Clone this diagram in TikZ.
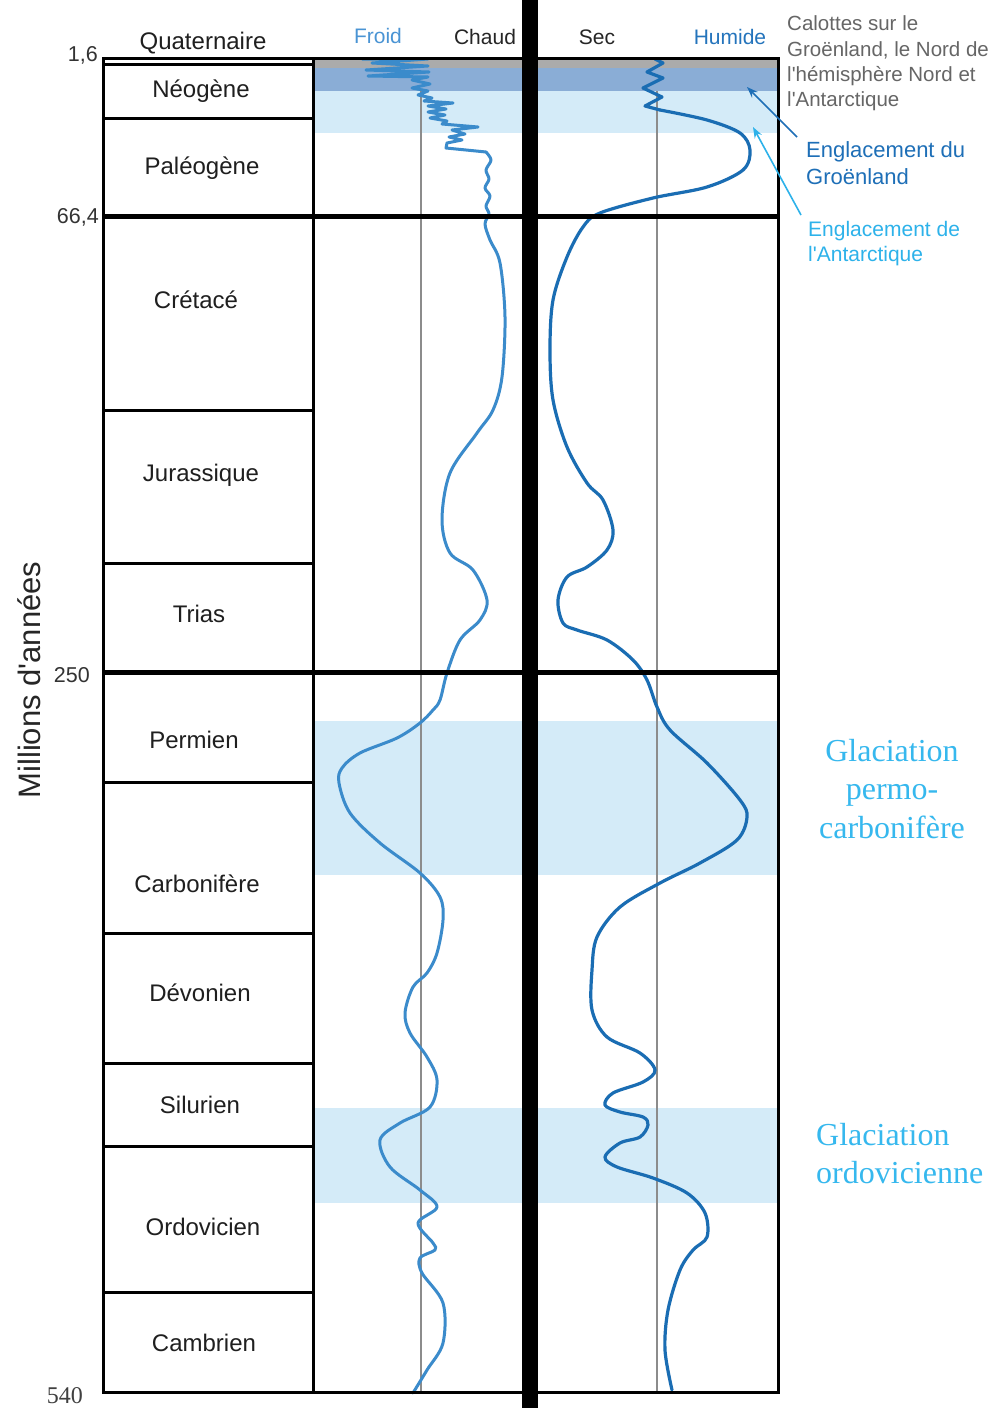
\documentclass[tikz,border=0pt]{standalone}
\usepackage{fontspec}
\setmainfont{Liberation Sans}
\newfontfamily\seriff{Liberation Serif}
\usetikzlibrary{arrows.meta}
\newcommand\sq{\XeTeXglyph\XeTeXcharglyph"27\relax}
\definecolor{tempc}{HTML}{3B8BCB}
\definecolor{humc}{HTML}{1A6DB3}
\definecolor{lband}{HTML}{D4EBF8}
\definecolor{dband}{HTML}{8AADD6}
\definecolor{gband}{HTML}{ABABAB}
\definecolor{gline}{HTML}{8C8C8C}
\definecolor{froidc}{HTML}{4A94D4}
\definecolor{humidec}{HTML}{2474BC}
\definecolor{calc}{HTML}{666666}
\definecolor{engc}{HTML}{1E6FB7}
\definecolor{antc}{HTML}{2DB2EA}
\definecolor{glac}{HTML}{36B8EE}
\begin{document}
\begin{tikzpicture}[x=1pt,y=-1pt,
  period/.style={anchor=base, inner sep=0pt, font=\fontsize{24}{28}\selectfont, text=black!88},
  head/.style={anchor=base, inner sep=0pt, font=\fontsize{21}{25}\selectfont},
  age/.style={anchor=base east, inner sep=0pt, font=\fontsize{21.5}{25}\selectfont, text=black!80},
  note/.style={anchor=base west, inner sep=0pt, font=\fontsize{20.5}{25}\selectfont},
  glac/.style={anchor=base, inner sep=0pt, font=\seriff\fontsize{32}{38}\selectfont, text=glac},
  box/.style={line width=3pt, line cap=rect},
  boxthick/.style={line width=5pt},
  greyline/.style={gline, line width=2.6pt},
  tempcurve/.style={tempc, line width=3pt, line join=round, line cap=round},
  humcurve/.style={humc, line width=3.2pt, line join=round, line cap=round},
  ptr/.style={line width=1.6pt, -{Stealth[length=11pt,width=8pt]}}]
\path[use as bounding box, fill=white] (0,0) rectangle (1002,1408);

% bands
\foreach \xa/\xb in {313/522, 538/778}{
  \fill[lband] (\xa,91) rectangle (\xb,133);
  \fill[dband] (\xa,68) rectangle (\xb,91);
  \fill[gband] (\xa,58) rectangle (\xb,68);
  \fill[lband] (\xa,721) rectangle (\xb,875);
  \fill[lband] (\xa,1108) rectangle (\xb,1203);
}

% grey reference lines
\draw[greyline] (421,91) -- (421,1392);
\draw[greyline] (657,91) -- (657,1392);

% temperature curve
\draw[tempcurve] plot coordinates {(362,59) (428,59) (372,63) (428,66) (366,70) (429,72) (368,76) (428,77) (412,80) (430,84) (412,88) (428,91) (418,95) (432,98) (424,101) (453,103) (428,106) (446,109) (428,112) (445,115) (430,118) (447,121) (442,124) (478,127) (452,130) (465,134) (449,137) (462,140) (447,143) (446,148) (486,152)};
\draw[tempcurve] plot[smooth, tension=0.55] coordinates {(486,152) (491,160) (486,170) (489,179) (485,188) (490,196) (486,206) (489,214) (485,224) (490,240) (500,263) (505,317) (502,377) (493,410) (477,433) (450,473) (442,520) (450,553) (473,570) (487,600) (480,620) (460,640) (447,673) (440,700) (433,710) (420,723) (397,738) (360,753) (342,768) (339,783) (350,813) (380,843) (420,873) (440,897) (443,920) (437,953) (427,973) (413,987) (405,1013) (410,1033) (427,1057) (437,1080) (430,1107) (400,1123) (380,1140) (390,1167) (420,1190) (437,1207) (418,1223) (433,1243) (435,1250) (420,1258) (422,1273) (443,1303) (443,1343) (427,1370) (413,1393)};

% humidity curve
\draw[humcurve] plot coordinates {(655,59) (663,63) (647,72) (663,78) (643,88) (662,97) (645,106) (660,110)};
\draw[humcurve] plot[smooth, tension=0.55] coordinates {(660,110) (707,120) (740,133) (750,150) (743,170) (707,187) (653,198) (600,213) (583,227) (567,257) (553,300) (550,350) (553,400) (567,447) (587,483) (603,500) (613,530) (607,550) (587,567) (567,577) (558,600) (563,623) (577,630) (607,640) (633,660) (647,680) (657,707) (670,730) (707,763) (740,800) (747,817) (737,840) (700,863) (660,883) (620,907) (597,937) (592,970) (592,1010) (607,1037) (640,1053) (655,1070) (643,1082) (613,1093) (605,1105) (620,1112) (643,1117) (648,1125) (640,1137) (620,1143) (605,1157) (617,1167) (653,1178) (687,1193) (705,1213) (707,1237) (693,1250) (680,1270) (668,1310) (665,1350) (672,1390)};

% frame
\draw[box] (103,58) -- (778,58) -- (778,1392) -- (103,1392) -- cycle;
\draw[box] (313,58) -- (313,1392);
\foreach \yy in {64,118,410,563,782,933,1063,1146,1292}{
  \draw[box] (103,\yy) -- (313,\yy);
}
\draw[boxthick] (103,216) -- (778,216);
\draw[boxthick] (103,672) -- (778,672);
\fill[black] (522,0) rectangle (538,1408);

% period labels
\node[period] (quat) at (203,49) {Quaternaire};
\node[period] (neo) at (201,97) {Néogène};
\node[period] (paleo) at (202,174) {Paléogène};
\node[period] (cret) at (196,308) {Crétacé};
\node[period] (jura) at (201,481) {Jurassique};
\node[period] (trias) at (199,622) {Trias};
\node[period] (perm) at (194,748) {Permien};
\node[period] (carb) at (197,892) {Carbonifère};
\node[period] (devo) at (200,1001) {Dévonien};
\node[period] (silu) at (200,1113) {Silurien};
\node[period] (ordo) at (203,1235) {Ordovicien};
\node[period] (camb) at (204,1351) {Cambrien};

% ages
\node[age] (a16) at (98,61) {1,6};
\node[age] (a664) at (99,223) {66,4};
\node[age] (a250) at (90,682) {250};
\node[anchor=base east, inner sep=0pt, font=\seriff\fontsize{24}{28}\selectfont, text=black!75] (a540) at (83,1403) {540};
\node[anchor=base, inner sep=0pt, rotate=90, font=\fontsize{31}{36}\selectfont, text=black!85] (axis) at (40,680) {Millions d\sq années};

% column heads
\node[head, text=froidc] (froid) at (378,43) {Froid};
\node[head, text=black!85] (chaud) at (485,44) {Chaud};
\node[head, text=black!85] (sec) at (597,44) {Sec};
\node[head, text=humidec] (humide) at (730,44) {Humide};

% notes
\node[note, text=calc] (cal1) at (787,30) {Calottes sur le};
\node[note, text=calc] (cal2) at (787,56) {Groënland, le Nord de};
\node[note, text=calc] (cal3) at (787,81) {l\sq hémisphère Nord et};
\node[note, text=calc] (cal4) at (787,106) {l\sq Antarctique};
\node[note, text=engc, font=\fontsize{22}{26}\selectfont] (eng1) at (806,157) {Englacement du};
\node[note, text=engc, font=\fontsize{22}{26}\selectfont] (eng2) at (806,184) {Groënland};
\node[note, text=antc, font=\fontsize{21}{25}\selectfont] (ant1) at (808,236) {Englacement de};
\node[note, text=antc, font=\fontsize{21}{25}\selectfont] (ant2) at (808,261) {l\sq Antarctique};

\coordinate (gfrom) at (797,137);
\coordinate (gto) at (747,87);
\coordinate (afrom) at (801,215);
\coordinate (ato) at (753,127);
\draw[ptr, engc] (gfrom) -- (gto);
\draw[ptr, antc] (afrom) -- (ato);

% glaciations
\node[glac] (pc1) at (892,761) {Glaciation};
\node[glac] (pc2) at (892,799) {permo-};
\node[glac] (pc3) at (892,838) {carbonifère};
\node[glac, anchor=base west] (or1) at (816,1145) {Glaciation};
\node[glac, anchor=base west] (or2) at (816,1183) {ordovicienne};
\end{tikzpicture}
\end{document}
